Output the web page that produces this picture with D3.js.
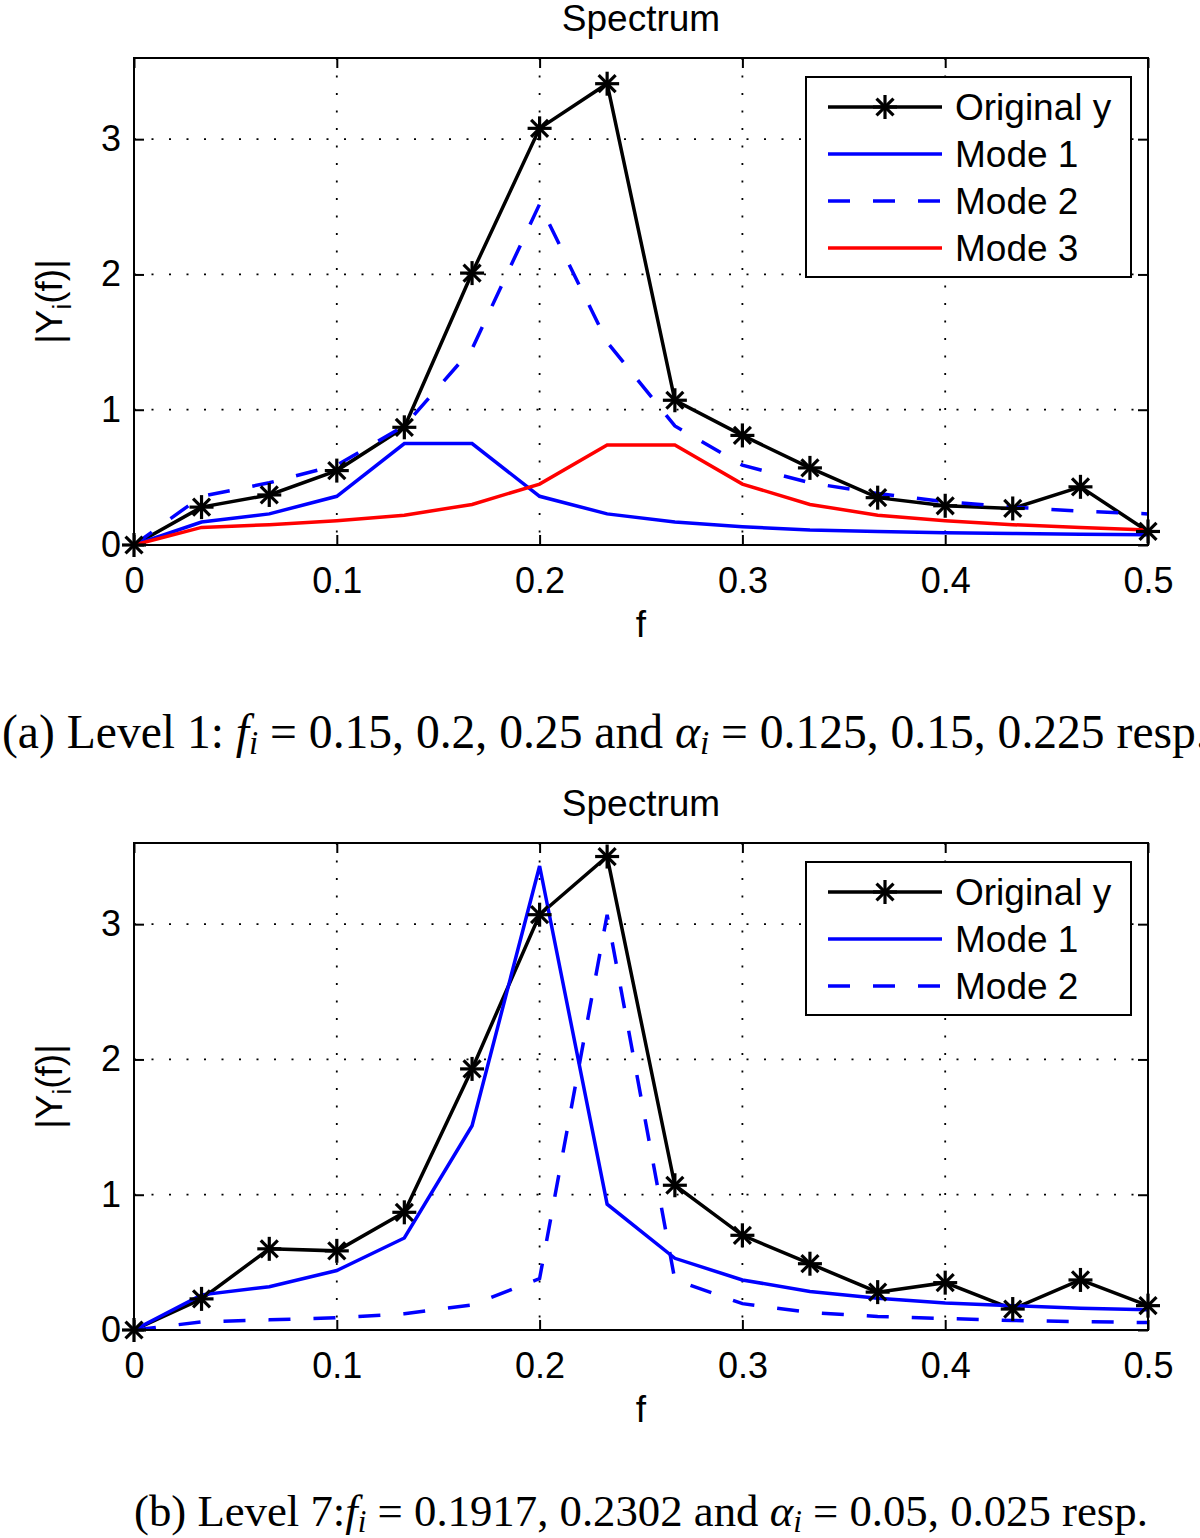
<!DOCTYPE html>
<html>
<head>
<meta charset="utf-8">
<script src="https://cdn.jsdelivr.net/npm/d3@7"></script>
<style>
  html, body { margin: 0; padding: 0; background: #fff; }
  svg { display: block; }
  .sans { font-family: "Liberation Sans", Arial, Helvetica, sans-serif; }
  .serif { font-family: "Liberation Serif", "Times New Roman", serif; }
</style>
</head>
<body>
<script>
// ---------------- DATA ----------------
const freq = [0, 0.0333, 0.0667, 0.1, 0.1333, 0.1667, 0.2, 0.2333, 0.2667, 0.3, 0.3333, 0.3667, 0.4, 0.4333, 0.4667, 0.5];

// Panel (a): Level 1
const a_original = [0, 0.28, 0.37, 0.55, 0.87, 2.01, 3.08, 3.41, 1.07, 0.81, 0.57, 0.35, 0.29, 0.27, 0.43, 0.10];
const a_mode1    = [0, 0.17, 0.23, 0.36, 0.75, 0.75, 0.36, 0.23, 0.17, 0.135, 0.11, 0.10, 0.09, 0.085, 0.08, 0.075];
const a_mode2    = [0, 0.36, 0.46, 0.59, 0.88, 1.45, 2.52, 1.50, 0.88, 0.59, 0.46, 0.38, 0.32, 0.28, 0.25, 0.23];
const a_mode3    = [0, 0.13, 0.15, 0.18, 0.22, 0.30, 0.45, 0.74, 0.74, 0.45, 0.30, 0.22, 0.18, 0.15, 0.13, 0.11];

// Panel (b): Level 7
const b_original = [0, 0.23, 0.60, 0.585, 0.87, 1.93, 3.07, 3.50, 1.07, 0.70, 0.49, 0.28, 0.35, 0.155, 0.37, 0.18];
const b_mode1    = [0, 0.26, 0.32, 0.44, 0.68, 1.51, 3.43, 0.93, 0.53, 0.37, 0.285, 0.235, 0.20, 0.18, 0.16, 0.15];
const b_mode2    = [0, 0.06, 0.075, 0.09, 0.12, 0.185, 0.38, 3.07, 0.37, 0.195, 0.13, 0.10, 0.085, 0.07, 0.062, 0.055];

const xTicks = [0, 0.1, 0.2, 0.3, 0.4, 0.5];
const xTickLabels = ["0", "0.1", "0.2", "0.3", "0.4", "0.5"];
const yTicks = [0, 1, 2, 3];
const yTickLabels = ["0", "1", "2", "3"];
const yMax = 3.6;

const titleText = "Spectrum";
const xLabelText = "f";
const legendA = ["Original y", "Mode 1", "Mode 2", "Mode 3"];
const legendB = ["Original y", "Mode 1", "Mode 2"];

// ---------------- STYLES ----------------
const BLUE = "#0000ff", RED = "#ff0000", BLACK = "#000000";
const DASH = "22,23";
const LW = 3.5;

const W = 1200, H = 1538;
const svg = d3.select("body").append("svg").attr("width", W).attr("height", H);

function asterisk(g, cx, cy) {
  const r = 12, d = r * 0.7071;
  const segs = [[0, -r, 0, r], [-r, 0, r, 0], [-d, -d, d, d], [-d, d, d, -d]];
  const m = g.append("g").attr("transform", `translate(${cx},${cy})`);
  segs.forEach(s => m.append("line")
    .attr("x1", s[0]).attr("y1", s[1]).attr("x2", s[2]).attr("y2", s[3])
    .attr("stroke", BLACK).attr("stroke-width", 3.2).attr("stroke-linecap", "butt"));
}

function panel(offsetY, series, legendLabels) {
  const left = 134, right = 1148, top = 58 + offsetY, bottom = 545 + offsetY;
  const x = d3.scaleLinear().domain([0, 0.5]).range([left, right]);
  const y = d3.scaleLinear().domain([0, yMax]).range([bottom, top]);
  const g = svg.append("g");

  // grid (dotted)
  const grid = g.append("g");
  xTicks.slice(1, -1).forEach(t => grid.append("line")
    .attr("x1", x(t)).attr("x2", x(t)).attr("y1", top).attr("y2", bottom)
    .attr("stroke", "#000").attr("stroke-width", 1.8).attr("stroke-dasharray", "2,15.5"));
  yTicks.slice(1).forEach(t => grid.append("line")
    .attr("x1", left).attr("x2", right).attr("y1", y(t)).attr("y2", y(t))
    .attr("stroke", "#000").attr("stroke-width", 1.8).attr("stroke-dasharray", "2,15.5"));

  // axes (inward ticks on all sides)
  const axB = g.append("g").attr("transform", `translate(0,${bottom})`)
    .call(d3.axisBottom(x).tickValues(xTicks).tickSizeInner(-10).tickSizeOuter(0).tickPadding(22)
      .tickFormat((d, i) => xTickLabels[i]));
  const axT = g.append("g").attr("transform", `translate(0,${top})`)
    .call(d3.axisTop(x).tickValues(xTicks).tickSizeInner(-10).tickSizeOuter(0).tickFormat(""));
  const axL = g.append("g").attr("transform", `translate(${left},0)`)
    .call(d3.axisLeft(y).tickValues(yTicks).tickSizeInner(-10).tickSizeOuter(0).tickPadding(13)
      .tickFormat((d, i) => yTickLabels[i]));
  const axR = g.append("g").attr("transform", `translate(${right},0)`)
    .call(d3.axisRight(y).tickValues(yTicks).tickSizeInner(-10).tickSizeOuter(0).tickFormat(""));
  [axB, axT, axL, axR].forEach(a => {
    a.select(".domain").remove();
    a.selectAll(".tick line").attr("stroke", "#000").attr("stroke-width", 2);
    a.selectAll("text").attr("class", "sans").attr("font-size", 36).attr("fill", "#000")
      .attr("font-family", "Liberation Sans, Arial, sans-serif");
  });

  // series lines
  const line = d3.line().x((d, i) => x(freq[i])).y(d => y(d));
  series.forEach(s => {
    g.append("path").attr("d", line(s.values)).attr("fill", "none")
      .attr("stroke", s.color).attr("stroke-width", LW)
      .attr("stroke-linejoin", "miter")
      .attr("stroke-dasharray", s.dash ? DASH : null);
  });
  // markers for original
  series.filter(s => s.marker).forEach(s => {
    s.values.forEach((v, i) => asterisk(g, x(freq[i]), y(v)));
  });

  // box
  g.append("rect").attr("x", left).attr("y", top).attr("width", right - left).attr("height", bottom - top)
    .attr("fill", "none").attr("stroke", "#000").attr("stroke-width", 2);

  // title
  g.append("text").attr("class", "sans").attr("x", 641).attr("y", top - 27)
    .attr("text-anchor", "middle").attr("font-size", 37).text(titleText);
  // x label
  g.append("text").attr("class", "sans").attr("x", 641).attr("y", bottom + 92)
    .attr("text-anchor", "middle").attr("font-size", 37).text(xLabelText);
  // y label |Y_i(f)|
  const yl = g.append("text").attr("class", "sans").attr("font-size", 37)
    .attr("transform", `translate(62,${(top + bottom) / 2}) rotate(-90)`)
    .attr("text-anchor", "middle");
  yl.append("tspan").text("|Y");
  yl.append("tspan").attr("font-size", 26).attr("dy", 9).text("i");
  yl.append("tspan").attr("dy", -9).text("(f)|");

  // legend
  const n = legendLabels.length;
  const lx = 806, ly = top + 19, lw = 325, rowH = 47, lh = rowH * n + 12;
  const lg = g.append("g");
  lg.append("rect").attr("x", lx).attr("y", ly).attr("width", lw).attr("height", lh)
    .attr("fill", "#fff").attr("stroke", "#000").attr("stroke-width", 2);
  series.forEach((s, i) => {
    const cy = ly + 30 + i * rowH;
    lg.append("line").attr("x1", lx + 22).attr("x2", lx + 136).attr("y1", cy).attr("y2", cy)
      .attr("stroke", s.color).attr("stroke-width", LW).attr("stroke-dasharray", s.dash ? DASH : null);
    if (s.marker) asterisk(lg, lx + 79, cy);
    lg.append("text").attr("class", "sans").attr("x", lx + 149).attr("y", cy + 13)
      .attr("font-size", 37).text(legendLabels[i]);
  });
}

panel(0, [
  { values: a_original, color: BLACK, marker: true },
  { values: a_mode1, color: BLUE },
  { values: a_mode2, color: BLUE, dash: true },
  { values: a_mode3, color: RED }
], legendA);

panel(785, [
  { values: b_original, color: BLACK, marker: true },
  { values: b_mode1, color: BLUE },
  { values: b_mode2, color: BLUE, dash: true }
], legendB);

// ---------------- CAPTIONS ----------------
function caption(xPos, yPos, parts, targetWidth) {
  const base = 36;
  const t = svg.append("text").attr("class", "serif").attr("x", xPos).attr("y", yPos).attr("font-size", base);
  parts.forEach(p => {
    const ts = t.append("tspan").text(p.t);
    if (p.it) ts.attr("font-style", "italic");
    if (p.sub) ts.attr("font-size", 25).attr("dy", 6).attr("font-style", "italic");
    if (p.up) ts.attr("dy", -6);
  });
  const k = targetWidth / t.node().getComputedTextLength();
  t.attr("font-size", base * k);
  t.selectAll("tspan").each(function () {
    const s = d3.select(this);
    if (s.attr("font-size")) s.attr("font-size", +s.attr("font-size") * k);
  });
  return t;
}
caption(2, 748, [
  { t: "(a) Level 1: " }, { t: "f", it: true }, { t: "i", sub: true },
  { t: " = 0.15, 0.2, 0.25 and ", up: true }, { t: "α", it: true }, { t: "i", sub: true },
  { t: " = 0.125, 0.15, 0.225 resp.", up: true }
], 1206);
caption(134, 1526, [
  { t: "(b) Level 7:" }, { t: "f", it: true }, { t: "i", sub: true },
  { t: " = 0.1917, 0.2302 and ", up: true }, { t: "α", it: true }, { t: "i", sub: true },
  { t: " = 0.05, 0.025 resp.", up: true }
], 1014);
</script>
</body>
</html>
